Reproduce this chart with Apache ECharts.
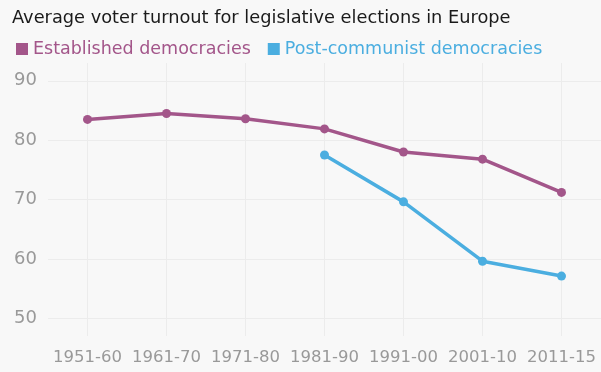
<!DOCTYPE html>
<html>
<head>
<meta charset="utf-8">
<script src="https://cdn.jsdelivr.net/npm/echarts@6/dist/echarts.min.js"></script>
<style>
html,body{margin:0;padding:0;background:#f8f8f8;}
#c{width:601px;height:372px;}
</style>
</head>
<body>
<div id="c"></div>
<script>
const categories = ['1951-60','1961-70','1971-80','1981-90','1991-00','2001-10','2011-15'];
const established = [83.5, 84.5, 83.6, 81.9, 78.0, 76.8, 71.2];
const postCommunist = [null, null, null, 77.5, 69.6, 59.6, 57.1];
const yTicks = [50, 60, 70, 80, 90];
const seriesNames = ['Established democracies', 'Post-communist democracies'];

const purple = '#a3568a';
const blue = '#4baee0';
const font = 'DejaVu Sans';

const chart = echarts.init(document.getElementById('c'), null, {renderer: 'canvas'});
const gridColors = [];
for (let i = 0; i < 10; i++) gridColors.push(i === 3 ? '#ececec' : 'rgba(0,0,0,0)');

chart.setOption({
  backgroundColor: '#f8f8f8',
  animation: false,
  title: {
    text: 'Average voter turnout for legislative elections in Europe',
    left: 7, top: 4,
    textStyle: {fontFamily: font, fontSize: 17.8, fontWeight: 'normal', color: '#1a1a1a'}
  },
  legend: {
    left: 11, top: 35,
    icon: 'rect', itemWidth: 12, itemHeight: 12, itemGap: 17,
    textStyle: {fontFamily: font, fontSize: 17.5, color: 'inherit'},
    data: seriesNames
  },
  grid: {left: 48, right: 0, top: 63, bottom: 36, containLabel: false},
  xAxis: {
    type: 'category',
    data: categories,
    boundaryGap: true,
    axisLine: {show: false},
    axisTick: {show: true, alignWithLabel: true, interval: 0, inside: true, length: 273, lineStyle: {color: '#ececec', width: 1}},
    splitLine: {show: false},
    axisLabel: {fontFamily: font, fontSize: 16.5, color: '#999999', margin: 13, interval: 0, hideOverlap: false}
  },
  yAxis: {
    type: 'value',
    min: 47, max: 93, interval: 1,
    axisLine: {show: false},
    axisTick: {show: false},
    splitLine: {show: true, lineStyle: {color: gridColors, width: 1}},
    axisLabel: {
      fontFamily: font, fontSize: 18, color: '#999999', margin: 11,
      formatter: v => yTicks.indexOf(v) >= 0 ? String(v) : ''
    }
  },
  series: [
    {
      name: seriesNames[0], type: 'line', data: established,
      color: purple, symbol: 'circle', symbolSize: 9,
      lineStyle: {width: 3.5, color: purple}, itemStyle: {color: purple}
    },
    {
      name: seriesNames[1], type: 'line', data: postCommunist,
      color: blue, symbol: 'circle', symbolSize: 9,
      lineStyle: {width: 3.5, color: blue}, itemStyle: {color: blue}
    }
  ]
});
</script>
</body>
</html>
